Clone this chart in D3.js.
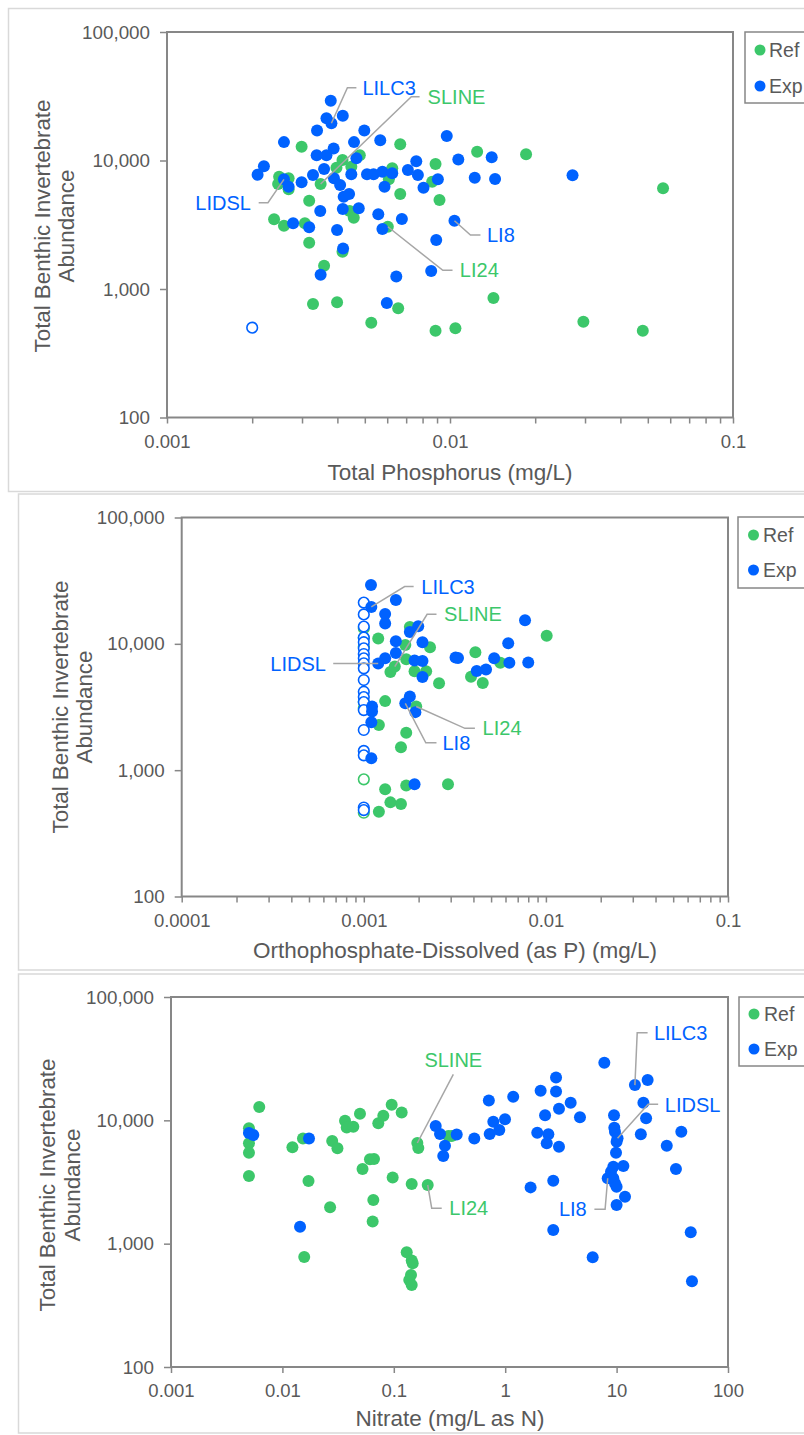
<!DOCTYPE html>
<html><head><meta charset="utf-8">
<script src="https://cdn.jsdelivr.net/npm/d3@7"></script>
<style>body{margin:0;background:#fff}svg{display:block}text{font-family:"Liberation Sans",Arial,sans-serif}</style>
</head><body><svg id="c" width="804" height="1435"></svg>
<script>
// ---------- DATA ----------
const yTickValues = [100, 1000, 10000, 100000];
const seriesNames = ["Ref", "Exp"];

// Panel 1: Total Phosphorus (mg/L) vs abundance
const tpTickLabels = ["0.001", "0.01", "0.1"];
const tpRef = [[0.00299,12800],[0.00667,13400],[0.00417,10100],[0.0048,11000],[0.00397,8790],[0.00448,8950],[0.00625,8700],[0.00889,9390],[0.01247,11700],[0.01857,11200],[0.00249,7480],[0.00269,7270],[0.00247,6560],[0.00269,5970],[0.00349,6560],[0.00608,7140],[0.00865,6840],[0.00318,4870],[0.00667,5490],[0.00918,4930],[0.0566,6080],[0.00442,4050],[0.00457,3590],[0.00239,3490],[0.00259,3110],[0.00307,3250],[0.00603,3050],[0.00318,2290],[0.00417,1950],[0.00359,1520],[0.01424,851],[0.00328,764],[0.00399,788],[0.00656,708],[0.00527,547],[0.00889,474],[0.01045,494],[0.0296,557],[0.048,474]];
const tpExp = [[0.00379,29200],[0.00366,21300],[0.00381,19500],[0.00418,22300],[0.00339,17100],[0.00498,17100],[0.00567,14400],[0.00259,13900],[0.00974,15500],[0.00388,12400],[0.00366,11000],[0.00338,11000],[0.00458,13900],[0.00467,10400],[0.0022,9020],[0.00209,7750],[0.00259,7140],[0.00269,6250],[0.00299,6770],[0.00328,7710],[0.00359,8590],[0.00389,7270],[0.00409,6450],[0.00448,7810],[0.00421,5230],[0.0044,5490],[0.00509,7810],[0.00537,7810],[0.00577,8180],[0.00625,7950],[0.00587,6250],[0.0071,8440],[0.0076,9860],[0.0077,7710],[0.00906,7140],[0.00806,6140],[0.0107,10200],[0.01404,10600],[0.01223,7350],[0.01443,7180],[0.0271,7670],[0.00348,4050],[0.00418,4190],[0.00476,4250],[0.00558,3810],[0.00676,3500],[0.01037,3400],[0.00279,3250],[0.00318,3020],[0.00399,2880],[0.00577,2930],[0.00894,2410],[0.00419,2070],[0.00349,1290],[0.00858,1380],[0.00646,1250],[0.00598,778]];
const tpRefND = [];
const tpExpND = [[0.002,500]];

// Panel 2: Orthophosphate-Dissolved (as P) (mg/L)
const opTickLabels = ["0.0001", "0.001", "0.01", "0.1"];
const opRef = [[0.0012,11000],[0.00179,13600],[0.00169,9780],[0.00231,9380],[0.00171,7540],[0.0014,5980],[0.00148,6610],[0.0019,6060],[0.0022,6070],[0.00259,4870],[0.0041,8580],[0.00562,7090],[0.00388,5490],[0.0045,4890],[0.0101,11600],[0.00131,3520],[0.00194,3190],[0.00121,2280],[0.00171,1980],[0.0016,1520],[0.00131,705],[0.00171,755],[0.0029,773],[0.0014,556],[0.0016,539],[0.00121,469]];
const opExp = [[0.001095,29200],[0.0011,19600],[0.0015,22200],[0.00131,17200],[0.00131,14500],[0.0015,10500],[0.00179,12400],[0.00199,13800],[0.0021,10300],[0.0015,8460],[0.00131,7680],[0.0012,6980],[0.0019,7380],[0.0021,7310],[0.0021,5460],[0.00319,7790],[0.00329,7740],[0.00417,6090],[0.00469,6260],[0.0052,7680],[0.00621,10100],[0.0063,7090],[0.008,7110],[0.00768,15400],[0.00111,3190],[0.00111,2910],[0.0011,2400],[0.00179,3830],[0.00169,3380],[0.00192,2880],[0.0011,1240],[0.0019,773]];
const opRefND = [[0.001,13300],[0.001,11100],[0.001,9480],[0.001,3460],[0.001,3090],[0.001,846],[0.001,460]];
const opExpND = [[0.001,21200],[0.001,17100],[0.001,13700],[0.001,11200],[0.001,10300],[0.001,9210],[0.001,8300],[0.001,7680],[0.001,7010],[0.001,6400],[0.001,5170],[0.001,4180],[0.001,3790],[0.001,3460],[0.001,2990],[0.001,2080],[0.001,1420],[0.001,1310],[0.001,506],[0.001,483]];

// Panel 3: Nitrate (mg/L as N)
const noTickLabels = ["0.001", "0.01", "0.1", "1", "10", "100"];
const noRef = [[0.0062,12800],[0.00501,8620],[0.00501,6510],[0.00501,5460],[0.00501,3540],[0.0123,6040],[0.0153,7130],[0.01715,3220],[0.0157,780],[0.028,6800],[0.0312,5940],[0.0268,1970],[0.0365,9910],[0.0378,8750],[0.0433,8880],[0.0497,11300],[0.0726,9460],[0.0805,10900],[0.0957,13400],[0.1177,11600],[0.0524,4030],[0.0611,4830],[0.0664,4850],[0.0977,3440],[0.1448,3050],[0.2016,2990],[0.0655,2260],[0.0646,1510],[0.1626,6550],[0.166,5970],[0.1306,851],[0.1448,730],[0.1478,693],[0.1427,557],[0.1377,507],[0.1448,462],[0.3085,7460],[0.331,7460]];
const noExp = [[0.00501,7890],[0.00548,7600],[0.01733,7130],[0.0144,1370],[0.2377,8990],[0.26,7750],[0.288,6230],[0.278,5140],[0.367,7680],[0.528,7130],[0.713,14500],[0.782,9750],[0.726,7750],[0.996,10200],[0.885,8350],[1.18,15500],[2.08,17400],[2.86,22200],[2.86,17100],[3.87,13900],[3.04,12400],[2.28,11000],[4.69,10600],[1.94,7940],[2.44,7700],[2.36,6510],[3.04,6110],[1.69,2860],[2.7,3240],[2.7,1290],[7.76,29300],[14.6,19300],[19.0,21200],[17.4,13900],[18.4,10400],[16.5,7700],[9.48,11000],[9.54,8710],[9.67,8090],[10.2,7150],[10.0,6710],[9.88,5460],[9.34,4210],[11.5,4260],[8.91,3830],[8.32,3390],[9.34,3390],[9.67,3090],[10.0,2900],[11.9,2400],[10.0,2060],[6.1,775],[28.2,6230],[38.1,8090],[34.1,4030],[46.3,1240],[47.5,495]];
const noRefND = [];
const noExpND = [];

// ---------- STYLE / LAYOUT ----------
const GREEN = "#3cc76a", BLUE = "#0062ff";
const AXIS = "#878787", TXT = "#595959", LEAD = "#a6a6a6";
const svg = d3.select("#c");

const panels = [
  { frame:[8.5,8.5,820,483], l:167, r:733, t:32, b:417.5, xDomain:[0.001,0.1], minor:true,
    xLabels:tpTickLabels, ref:tpRef, exp:tpExp, refND:tpRefND, expND:tpExpND,
    xTitle:"Total Phosphorus (mg/L)", xTitleX:450, xTitleY:472, yTitleX:[42,66], yTitleY:226,
    legend:{x:745,y:32,h:71,mx:760,my:[50,86],tx:769},
    notes:[
      {t:"LILC3", s:"exp", i:2, c:BLUE, path:[[0,0],[16,-35.6],[25,-35.6]], tx:[31,-35.6], a:"start"},
      {t:"SLINE", s:"ref", i:14, c:GREEN, path:[[0,0],[90.7,-87.3],[99,-87.3]], tx:[107,-87.3], a:"start"},
      {t:"LIDSL", s:"exp", i:16, c:BLUE, path:[[0,0],[-16,23.4],[-25.3,23.4]], tx:[-33,23.4], a:"end"},
      {t:"LI8", s:"exp", i:46, c:BLUE, path:[[0,0],[16,14.3],[26,14.3]], tx:[32.5,14.3], a:"start"},
      {t:"LI24", s:"ref", i:26, c:GREEN, path:[[0,0],[55,43.6],[64.7,43.6]], tx:[72,43.6], a:"start"}
    ]},
  { frame:[18.5,494,820,476], l:181.7, r:728, t:517.5, b:896.5, xDomain:[0.0001,0.1], minor:true,
    xLabels:opTickLabels, ref:opRef, exp:opExp, refND:opRefND, expND:opExpND,
    xTitle:"Orthophosphate-Dissolved (as P) (mg/L)", xTitleX:455, xTitleY:950, yTitleX:[60,84], yTitleY:707,
    legend:{x:738,y:517,h:71,mx:753.5,my:[535,570],tx:763},
    notes:[
      {t:"LILC3", s:"exp", i:1, c:BLUE, path:[[0,0],[33.3,-20.3],[42.3,-20.3]], tx:[50,-20.3], a:"start"},
      {t:"SLINE", s:"ref", i:6, c:GREEN, path:[[0,0],[32.3,-52.2],[41.7,-52.2]], tx:[49.3,-52.2], a:"start"},
      {t:"LIDSL", s:"exp", i:11, c:BLUE, path:[[0,0],[-45,0]], tx:[-52.3,0], a:"end"},
      {t:"LI8", s:"exp", i:28, c:BLUE, path:[[0,0],[20.5,39.4],[31.2,39.4]], tx:[37.2,39.4], a:"start"},
      {t:"LI24", s:"ref", i:16, c:GREEN, path:[[0,0],[48.7,21.8],[58.7,21.8]], tx:[66.4,21.8], a:"start"}
    ]},
  { frame:[18.5,974,820,459], l:171, r:728, t:997, b:1367, xDomain:[0.001,100], minor:false,
    xLabels:noTickLabels, ref:noRef, exp:noExp, refND:noRefND, expND:noExpND,
    xTitle:"Nitrate (mg/L as N)", xTitleX:450, xTitleY:1418, yTitleX:[47,72], yTitleY:1185,
    legend:{x:739,y:997,h:69,mx:754,my:[1014,1049],tx:764},
    notes:[
      {t:"SLINE", s:"ref", i:28, c:GREEN, path:[[0,0],[36,-68.7]], tx:[36,-83], a:"middle"},
      {t:"LI24", s:"ref", i:25, c:GREEN, path:[[0,0],[4,23.3],[14,23.3]], tx:[21.6,23.3], a:"start"},
      {t:"LILC3", s:"exp", i:31, c:BLUE, path:[[0,0],[2.3,-52.3],[12.7,-52.3]], tx:[19,-52.3], a:"start"},
      {t:"LIDSL", s:"exp", i:39, c:BLUE, path:[[0,0],[30.6,-34],[40.6,-34]], tx:[47.3,-33.5], a:"start"},
      {t:"LI8", s:"exp", i:45, c:BLUE, path:[[0,0],[-2.6,31],[-13.3,31]], tx:[-21,31], a:"end"}
    ]}
];

function isMajor(v){ const l=Math.log10(v); return Math.abs(l-Math.round(l))<1e-9; }

panels.forEach(p => {
  const g = svg.append("g");
  g.append("rect").attr("x",p.frame[0]).attr("y",p.frame[1]).attr("width",p.frame[2]).attr("height",p.frame[3])
    .attr("fill","#fff").attr("stroke","#d9d9d9").attr("stroke-width",1.5);

  const x = d3.scaleLog().domain(p.xDomain).range([p.l,p.r]);
  const y = d3.scaleLog().domain([100,100000]).range([p.b,p.t]);

  // y axis
  const ya = g.append("g").attr("transform",`translate(${p.l},0)`)
    .call(d3.axisLeft(y).tickValues(yTickValues).tickFormat(d3.format(",")).tickSize(7).tickPadding(10));
  ya.select(".domain").remove();
  ya.selectAll("line").attr("stroke",AXIS).attr("stroke-width",1.5);
  ya.selectAll("text").attr("fill",TXT).style("font-size","18.8px").style("font-family","Liberation Sans, Arial, sans-serif");

  // x axis
  const lo = Math.round(Math.log10(p.xDomain[0])), hi = Math.round(Math.log10(p.xDomain[1]));
  const xt = [];
  for (let e=lo; e<=hi; e++) {
    if (p.minor && e<hi) { for (let k=1;k<=9;k++) xt.push(+(k*Math.pow(10,e)).toPrecision(4)); }
    else xt.push(+Math.pow(10,e).toPrecision(4));
  }
  const majors = xt.filter(isMajor);
  const xa = g.append("g").attr("transform",`translate(0,${p.b})`)
    .call(d3.axisBottom(x).tickValues(xt).tickFormat(v => isMajor(v) ? p.xLabels[majors.indexOf(v)] : "").tickSize(6).tickPadding(11));
  xa.select(".domain").remove();
  xa.selectAll("line").attr("stroke",AXIS).attr("stroke-width",1.5);
  xa.selectAll("text").attr("fill",TXT).style("font-size","18.5px").style("font-family","Liberation Sans, Arial, sans-serif");

  // plot frame
  g.append("rect").attr("x",p.l).attr("y",p.t).attr("width",p.r-p.l).attr("height",p.b-p.t)
    .attr("fill","none").attr("stroke",AXIS).attr("stroke-width",2);

  // titles
  g.append("text").attr("x",p.xTitleX).attr("y",p.xTitleY).attr("text-anchor","middle").attr("dominant-baseline","central")
    .attr("fill",TXT).style("font-size","22.5px").text(p.xTitle);
  ["Total Benthic Invertebrate","Abundance"].forEach((s,k)=>{
    g.append("text").attr("transform",`translate(${p.yTitleX[k]},${p.yTitleY}) rotate(-90)`)
      .attr("text-anchor","middle").attr("dominant-baseline","central").attr("fill",TXT).style("font-size","22.3px").text(s);
  });

  // points
  const pts = g.append("g");
  pts.selectAll(".rnd").data(p.refND).join("circle").attr("cx",d=>x(d[0])).attr("cy",d=>y(d[1])).attr("r",5.3)
    .attr("fill","#fff").attr("stroke",GREEN).attr("stroke-width",1.6);
  pts.selectAll(".r").data(p.ref).join("circle").attr("cx",d=>x(d[0])).attr("cy",d=>y(d[1])).attr("r",6).attr("fill",GREEN);
  pts.selectAll(".end").data(p.expND).join("circle").attr("cx",d=>x(d[0])).attr("cy",d=>y(d[1])).attr("r",5.3)
    .attr("fill","#fff").attr("stroke",BLUE).attr("stroke-width",1.6);
  pts.selectAll(".e").data(p.exp).join("circle").attr("cx",d=>x(d[0])).attr("cy",d=>y(d[1])).attr("r",6).attr("fill",BLUE);

  // annotations
  p.notes.forEach(n => {
    const d = (n.s==="ref" ? p.ref : p.exp)[n.i];
    const px = x(d[0]), py = y(d[1]);
    g.append("path").attr("d", d3.line()(n.path.map(q=>[px+q[0],py+q[1]])))
      .attr("fill","none").attr("stroke",LEAD).attr("stroke-width",1.5);
    g.append("text").attr("x",px+n.tx[0]).attr("y",py+n.tx[1]).attr("text-anchor",n.a).attr("dominant-baseline","central")
      .attr("fill",n.c).style("font-size","20px").text(n.t);
  });

  // legend
  const L = p.legend;
  g.append("rect").attr("x",L.x).attr("y",L.y).attr("width",120).attr("height",L.h)
    .attr("fill","#fff").attr("stroke",AXIS).attr("stroke-width",1.5);
  seriesNames.forEach((s,k)=>{
    g.append("circle").attr("cx",L.mx).attr("cy",L.my[k]).attr("r",5.5).attr("fill",k===0?GREEN:BLUE);
    g.append("text").attr("x",L.tx).attr("y",L.my[k]).attr("dominant-baseline","central").attr("fill",TXT)
      .style("font-size","19.5px").text(s);
  });
});
</script></body></html>
